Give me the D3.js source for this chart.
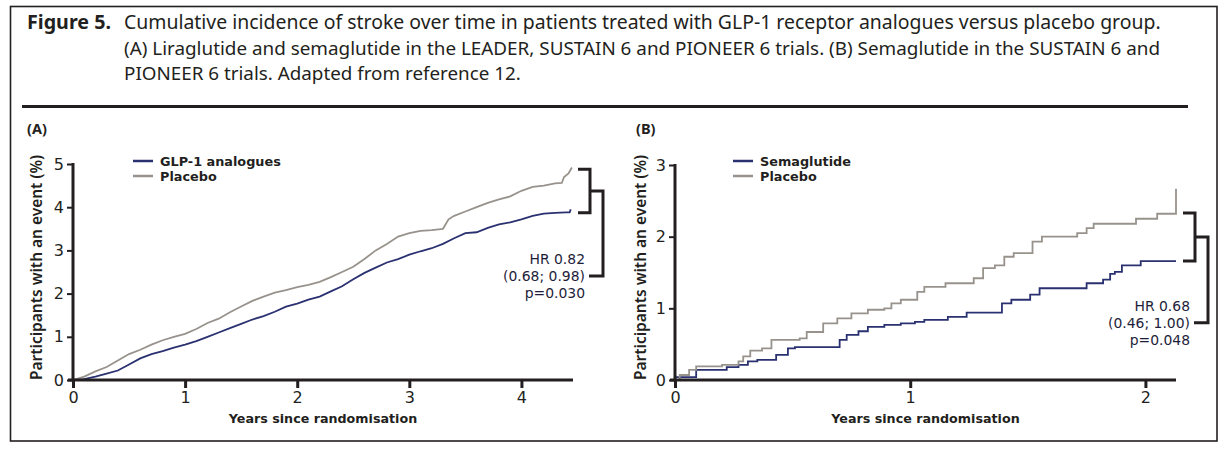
<!DOCTYPE html>
<html><head><meta charset="utf-8">
<script src="https://cdn.jsdelivr.net/npm/d3@7"></script>
<style>
html,body{margin:0;padding:0;background:#fff;}
svg{display:block;font-family:"Noto Sans",sans-serif;}
</style></head>
<body>
<svg id="c" width="1226" height="450"></svg>
<script>
// ---------- data ----------
const titleLines = [
  "Cumulative incidence of stroke over time in patients treated with GLP-1 receptor analogues versus placebo group.",
  "(A) Liraglutide and semaglutide in the LEADER, SUSTAIN 6 and PIONEER 6 trials. (B) Semaglutide in the SUSTAIN 6 and",
  "PIONEER 6 trials. Adapted from reference 12."
];
const figLabel = "Figure 5.";

// Panel A: years, cumulative %
const aTicksX = [0,1,2,3,4];
const aTicksY = [0,1,2,3,4,5];
const aGlpT = [0,0.1,0.2,0.3,0.4,0.5,0.6,0.7,0.8,0.9,1.0,1.1,1.2,1.3,1.4,1.5,1.6,1.7,1.8,1.9,2.0,2.1,2.2,2.3,2.4,2.5,2.6,2.7,2.8,2.9,3.0,3.1,3.2,3.3,3.4,3.5,3.6,3.7,3.8,3.9,4.0,4.1,4.2,4.3,4.4,4.43,4.44];
const aGlpV = [0,0.02,0.08,0.15,0.22,0.36,0.5,0.6,0.67,0.75,0.82,0.9,1.0,1.1,1.2,1.3,1.4,1.48,1.58,1.7,1.77,1.86,1.93,2.05,2.17,2.33,2.48,2.6,2.72,2.8,2.9,2.98,3.05,3.15,3.28,3.4,3.42,3.52,3.6,3.65,3.72,3.8,3.85,3.87,3.88,3.88,3.95];
const aPlaT = [0,0.1,0.2,0.3,0.4,0.5,0.6,0.7,0.8,0.9,1.0,1.1,1.2,1.3,1.4,1.5,1.6,1.7,1.8,1.9,2.0,2.1,2.2,2.3,2.4,2.5,2.6,2.7,2.8,2.9,3.0,3.1,3.2,3.3,3.35,3.4,3.5,3.6,3.7,3.8,3.9,4.0,4.1,4.2,4.3,4.36,4.38,4.42,4.45];
const aPlaV = [0,0.08,0.2,0.3,0.45,0.6,0.7,0.82,0.92,1.0,1.07,1.18,1.32,1.42,1.57,1.7,1.83,1.93,2.02,2.08,2.15,2.2,2.27,2.38,2.5,2.62,2.8,3.0,3.15,3.32,3.4,3.45,3.47,3.5,3.72,3.8,3.9,4.0,4.1,4.18,4.25,4.38,4.47,4.5,4.55,4.56,4.7,4.78,4.92];
const aLegend = ["GLP-1 analogues","Placebo"];
const aHR = ["HR 0.82","(0.68; 0.98)","p=0.030"];
const aBracket = [4.88, 3.87, 2.41]; // placebo end, active end, HR anchor level

// Panel B
const bTicksX = [0,1,2];
const bTicksY = [0,1,2,3];
const bSemT = [0,0.09,0.22,0.27,0.31,0.35,0.43,0.48,0.51,0.70,0.73,0.78,0.82,0.89,0.96,1.02,1.06,1.16,1.24,1.39,1.43,1.51,1.55,1.75,1.82,1.85,1.87,1.90,1.98,2.13];
const bSemV = [0.04,0.14,0.18,0.21,0.26,0.28,0.35,0.44,0.46,0.56,0.63,0.68,0.74,0.77,0.79,0.81,0.84,0.88,0.94,1.07,1.12,1.19,1.28,1.35,1.40,1.48,1.51,1.60,1.66,1.66];
const bPlaT = [0,0.02,0.06,0.09,0.2,0.27,0.29,0.32,0.37,0.41,0.53,0.56,0.63,0.69,0.75,0.82,0.89,0.92,0.96,1.03,1.06,1.15,1.27,1.31,1.36,1.40,1.44,1.52,1.56,1.71,1.75,1.78,1.96,2.05,2.13];
const bPlaV = [0,0.07,0.14,0.19,0.21,0.26,0.33,0.41,0.44,0.56,0.58,0.67,0.79,0.86,0.93,0.98,1.0,1.07,1.12,1.23,1.30,1.35,1.42,1.56,1.60,1.72,1.77,1.93,2.0,2.05,2.12,2.18,2.25,2.32,2.67];
const bLegend = ["Semaglutide","Placebo"];
const bHR = ["HR 0.68","(0.46; 1.00)","p=0.048"];
const bBracket = [2.33, 1.66, 0.80];

const axisLabelX = "Years since randomisation";
const axisLabelY = "Participants with an event (%)";

// ---------- style ----------
const INK = "#231f20", NAVY = "#2a3170", GRAY = "#98928c";
const COMPACT = "'DejaVu Sans', sans-serif";
const svg = d3.select("#c");

function fitSize(sel, w){
  const n = sel.node(); const fs = parseFloat(sel.attr("font-size"));
  const len = n.getComputedTextLength();
  return len>0 ? fs*w/len : fs;
}
function fit(sel, w){ sel.attr("font-size", fitSize(sel,w).toFixed(2)); return sel; }
function measureSize(str, weight, family, w){
  const t = svg.append("text").attr("font-size",14).attr("font-weight",weight).attr("font-family",family).text(str);
  const fs = fitSize(t,w); t.remove(); return fs;
}

// frame
svg.append("rect").attr("x",10.5).attr("y",6.5).attr("width",1206.5).attr("height",434.5)
  .attr("fill","none").attr("stroke",INK).attr("stroke-width",1.6);
// title
svg.append("text").attr("x",27).attr("y",29).attr("font-size",17).attr("font-weight","bold")
  .attr("fill",INK).text(figLabel).call(fit,84);
const titleY=[29,55,80], titleW=[1037,1037,397];
titleLines.forEach((t,i)=>{
  svg.append("text").attr("x",124).attr("y",titleY[i]).attr("font-size",17).attr("fill",INK)
    .text(t).call(fit,titleW[i]);
});
svg.append("line").attr("x1",22).attr("x2",1188).attr("y1",106.5).attr("y2",106.5)
  .attr("stroke",INK).attr("stroke-width",3);

function panel(cfg){
  const x = d3.scaleLinear().domain([0,cfg.xmax]).range(cfg.xr);
  const y = d3.scaleLinear().domain([0,cfg.ymax]).range([380,cfg.ytop]);
  const g = svg.append("g");
  g.append("text").attr("x",cfg.lab[0]).attr("y",134).attr("font-size",14.5).attr("font-weight","bold")
    .attr("fill",INK).text(cfg.label);

  const line = d3.line().x(d=>x(d[0])).y(d=>y(d[1])).curve(cfg.curve);
  cfg.series.forEach(s=>{
    const pts = s.t.map((t,i)=>[t,s.v[i]]);
    g.append("path").attr("d",line(pts)).attr("fill","none").attr("stroke",s.c).attr("stroke-width",1.8);
  });

  const ax = g.append("g").attr("transform","translate(0,380)")
    .call(d3.axisBottom(x).tickValues(cfg.tx).tickSize(8).tickSizeOuter(0).tickPadding(4).tickFormat(d3.format("d")));
  ax.select(".domain").attr("stroke",INK).attr("stroke-width",3).attr("d",`M${cfg.xr[0]-5},0H${cfg.xr[1]}`);
  ax.selectAll(".tick line").attr("stroke",INK).attr("stroke-width",3);
  ax.selectAll(".tick text").attr("font-size",16).attr("fill",INK).attr("font-family",COMPACT);

  const ay = g.append("g").attr("transform",`translate(${cfg.xr[0]},0)`)
    .call(d3.axisLeft(y).tickValues(cfg.ty).tickSize(6).tickSizeOuter(0).tickPadding(3).tickFormat(d3.format("d")));
  ay.select(".domain").attr("stroke",INK).attr("stroke-width",3).attr("d",`M0,381.5V${cfg.ytop-1}`);
  ay.selectAll(".tick line").attr("stroke",INK).attr("stroke-width",2);
  ay.selectAll(".tick text").attr("font-size",16).attr("fill",INK).attr("font-family",COMPACT);

  const xl = g.append("text").attr("x",(cfg.xr[0]+cfg.xr[1])/2).attr("y",422.5).attr("text-anchor","middle")
    .attr("font-family",COMPACT).attr("font-size",12).attr("font-weight","bold").attr("fill",INK).text(axisLabelX);
  xl.attr("font-size", Math.min(fitSize(xl,194), 12.7).toFixed(2));
  g.append("text").attr("transform",`translate(${cfg.ylx},267.5) rotate(-90)`).attr("text-anchor","middle")
    .attr("dominant-baseline","middle").attr("font-size",14).attr("font-weight","600").attr("fill",INK)
    .text(axisLabelY).call(fit,225);

  // legend
  const legStep = 15, ly0 = 161;
  const lfs = Math.min(measureSize(cfg.legend[0], "bold", COMPACT, cfg.legW), legStep/1.17);
  cfg.legend.forEach((t,i)=>{
    const ly = ly0 + i*legStep;
    g.append("line").attr("x1",cfg.lx).attr("x2",cfg.lx+20).attr("y1",ly).attr("y2",ly)
      .attr("stroke",cfg.series[i].c).attr("stroke-width",2.5);
    g.append("text").attr("x",cfg.lx+27).attr("y",ly + lfs*0.36).attr("font-family",COMPACT)
      .attr("font-size",lfs.toFixed(2)).attr("font-weight","bold").attr("fill",INK).text(t);
  });

  // brackets
  const bx = cfg.bx, yt=y(cfg.br[0]), yb=y(cfg.br[1]), ym=(yt+yb)/2, ya=y(cfg.br[2]);
  g.append("path").attr("d",`M${bx},${yt}H${bx+12}V${yb}H${bx}`).attr("fill","none")
    .attr("stroke",INK).attr("stroke-width",3);
  g.append("path").attr("d",`M${bx+12},${ym}H${bx+25}V${ya}H${bx+11}`).attr("fill","none")
    .attr("stroke",INK).attr("stroke-width",3);
  const hrStep = 17;
  const hfs = Math.min(measureSize(cfg.hr[1], "normal", COMPACT, 82), hrStep/1.17);
  cfg.hr.forEach((t,i)=>{
    g.append("text").attr("x",bx+7).attr("y",ya+(i-1)*hrStep + hfs*0.36).attr("text-anchor","end")
      .attr("font-family",COMPACT).attr("font-size",hfs.toFixed(2)).attr("fill","#1e1e3a").text(t);
  });
}

panel({label:"(A)", lab:[27], xmax:4.46, xr:[73,573], ymax:5, ytop:164, tx:aTicksX, ty:aTicksY,
  series:[{t:aGlpT,v:aGlpV,c:NAVY},{t:aPlaT,v:aPlaV,c:GRAY}], legend:aLegend, legW:124, lx:133, ylx:38,
  br:aBracket, bx:578, hr:aHR, curve:d3.curveLinear});
panel({label:"(B)", lab:[636], xmax:2.13, xr:[675,1176], ymax:3, ytop:165, tx:bTicksX, ty:bTicksY,
  series:[{t:bSemT,v:bSemV,c:NAVY},{t:bPlaT,v:bPlaV,c:GRAY}], legend:bLegend, legW:94, lx:733, ylx:642,
  br:bBracket, bx:1183, hr:bHR, curve:d3.curveStepAfter});
</script>
</body></html>
